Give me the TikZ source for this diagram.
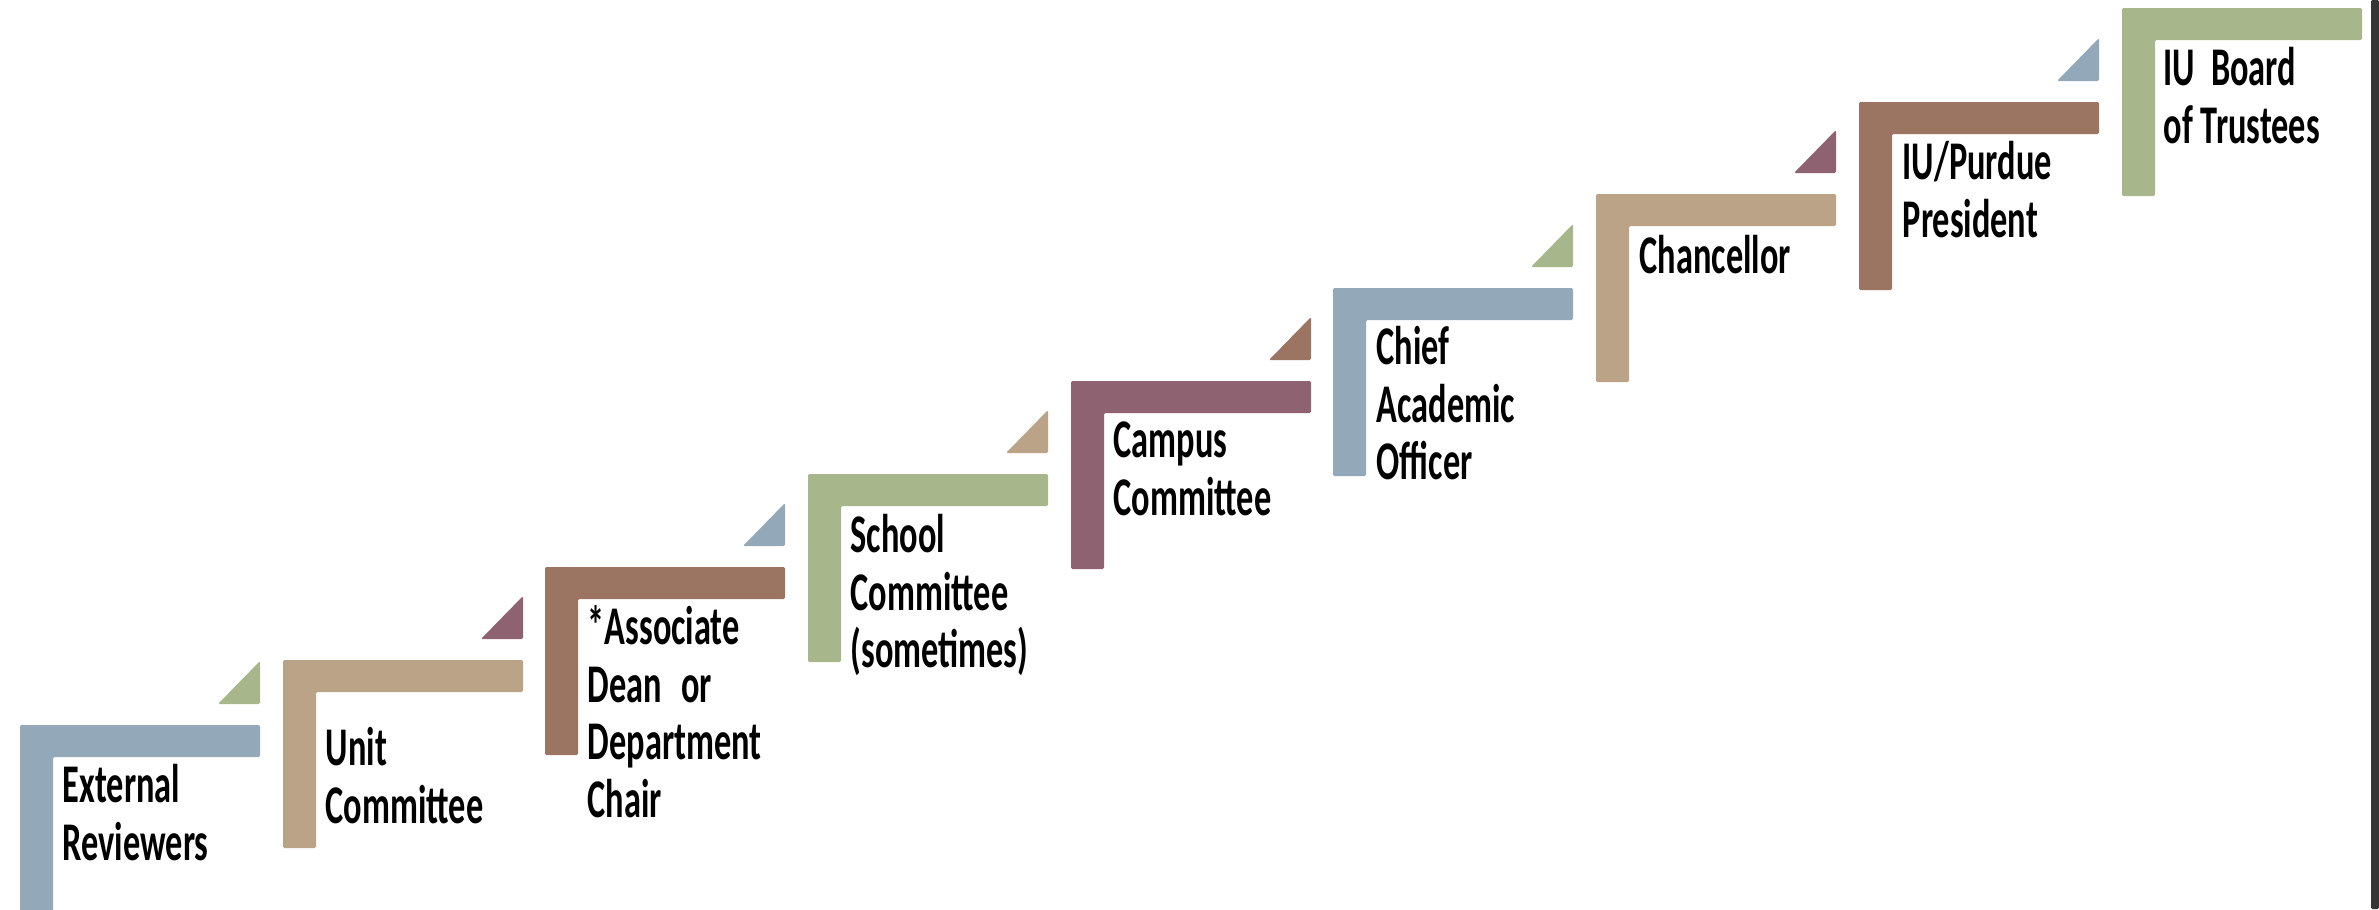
\documentclass[tikz,border=0pt]{standalone}
\usepackage{fontspec}
\newfontfamily\stairfont{Carlito}[FakeStretch=0.63]
\definecolor{stairblue}{HTML}{93A9B9}
\definecolor{stairtan}{HTML}{BAA387}
\definecolor{stairbrown}{HTML}{9B7462}
\definecolor{stairgreen}{HTML}{A8B78B}
\definecolor{stairmauve}{HTML}{8F6272}
\definecolor{edgegray}{HTML}{353535}
\newcommand{\stairstrut}{\rule{0pt}{14pt}}
\tikzset{
  stairlabel/.style={anchor=north west, yshift=14pt, inner sep=0pt, align=left,
    font=\stairfont\bfseries\fontsize{15.5pt}{16.36pt}\selectfont},
}
\begin{document}
\begin{tikzpicture}[x=0.01cm, y=-0.01cm, rounded corners=0.4pt]
\useasboundingbox (0,0) rectangle (2379,909);
\fill[edgegray] (2371,0) rectangle (2379,909);
\pgfmathsetmacro{\x}{20};
\pgfmathsetmacro{\y}{725};
\fill[stairblue] (\x,\y) -| (\x+240,\y+32) -| (\x+33,\y+188) -- (\x,\y+188) -- cycle;
\fill[stairgreen] (\x+198,\y-21) -- (\x+240,\y-21) -- (\x+240,\y-64) -- cycle;
\node[stairlabel] (external) at (\x+42,\y+77) {\stairstrut External\\Reviewers};
\pgfmathsetmacro{\x}{283};
\pgfmathsetmacro{\y}{660};
\fill[stairtan] (\x,\y) -| (\x+240,\y+32) -| (\x+33,\y+188) -- (\x,\y+188) -- cycle;
\fill[stairmauve] (\x+198,\y-21) -- (\x+240,\y-21) -- (\x+240,\y-64) -- cycle;
\node[stairlabel] (unit) at (\x+42,\y+105) {\stairstrut Unit\\Committee};
\pgfmathsetmacro{\x}{545};
\pgfmathsetmacro{\y}{567};
\fill[stairbrown] (\x,\y) -| (\x+240,\y+32) -| (\x+33,\y+188) -- (\x,\y+188) -- cycle;
\fill[stairblue] (\x+198,\y-21) -- (\x+240,\y-21) -- (\x+240,\y-64) -- cycle;
\node[stairlabel] (assocdean) at (\x+42,\y+77) {\stairstrut *Associate\\Dean\hspace{5.5pt}or\\Department\\Chair};
\pgfmathsetmacro{\x}{808};
\pgfmathsetmacro{\y}{474};
\fill[stairgreen] (\x,\y) -| (\x+240,\y+32) -| (\x+33,\y+188) -- (\x,\y+188) -- cycle;
\fill[stairtan] (\x+198,\y-21) -- (\x+240,\y-21) -- (\x+240,\y-64) -- cycle;
\node[stairlabel] (school) at (\x+42,\y+78) {\stairstrut School\\Committee\\(sometimes)};
\pgfmathsetmacro{\x}{1071};
\pgfmathsetmacro{\y}{381};
\fill[stairmauve] (\x,\y) -| (\x+240,\y+32) -| (\x+33,\y+188) -- (\x,\y+188) -- cycle;
\fill[stairbrown] (\x+198,\y-21) -- (\x+240,\y-21) -- (\x+240,\y-64) -- cycle;
\node[stairlabel] (campus) at (\x+42,\y+76) {\stairstrut Campus\\Committee};
\pgfmathsetmacro{\x}{1333};
\pgfmathsetmacro{\y}{288};
\fill[stairblue] (\x,\y) -| (\x+240,\y+32) -| (\x+33,\y+188) -- (\x,\y+188) -- cycle;
\fill[stairgreen] (\x+198,\y-21) -- (\x+240,\y-21) -- (\x+240,\y-64) -- cycle;
\node[stairlabel] (chief) at (\x+43,\y+76) {\stairstrut Chief\\Academic\\Officer};
\pgfmathsetmacro{\x}{1596};
\pgfmathsetmacro{\y}{194};
\fill[stairtan] (\x,\y) -| (\x+240,\y+32) -| (\x+33,\y+188) -- (\x,\y+188) -- cycle;
\fill[stairmauve] (\x+198,\y-21) -- (\x+240,\y-21) -- (\x+240,\y-64) -- cycle;
\node[stairlabel] (chancellor) at (\x+43,\y+79) {\stairstrut Chancellor};
\pgfmathsetmacro{\x}{1859};
\pgfmathsetmacro{\y}{102};
\fill[stairbrown] (\x,\y) -| (\x+240,\y+32) -| (\x+33,\y+188) -- (\x,\y+188) -- cycle;
\fill[stairblue] (\x+198,\y-21) -- (\x+240,\y-21) -- (\x+240,\y-64) -- cycle;
\node[stairlabel] (president) at (\x+43,\y+77) {\stairstrut IU/Purdue\\President};
\pgfmathsetmacro{\x}{2122};
\pgfmathsetmacro{\y}{8};
\fill[stairgreen] (\x,\y) -| (\x+240,\y+32) -| (\x+33,\y+188) -- (\x,\y+188) -- cycle;
\node[stairlabel] (trustees) at (\x+41,\y+77) {\stairstrut IU\hspace{4.5pt}Board\\of Trustees};
\end{tikzpicture}
\end{document}
